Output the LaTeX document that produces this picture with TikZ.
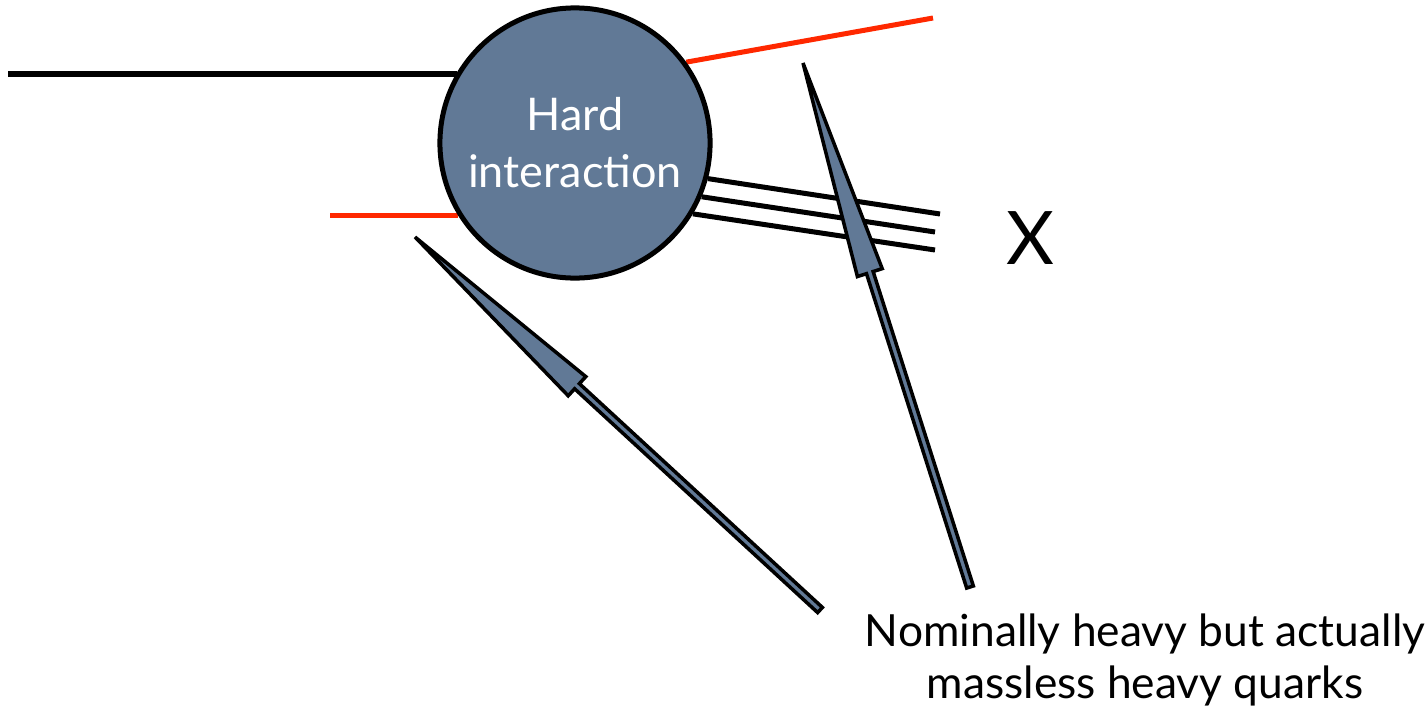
\documentclass[tikz,border=0pt]{standalone}
\usepackage{fontspec}
\setmainfont{Lato}
\usetikzlibrary{calc,backgrounds}
\definecolor{blob}{RGB}{97,121,150}
\definecolor{qred}{RGB}{255,40,0}
\newcommand{\qarrow}[2]{% #1 tail, #2 tip
  \coordinate (hb) at ($(#1)!0.6!(#2)$);
  \draw[fatarrow] (#2) -- ($(hb)!0.13cm!90:(#2)$) -- ($(hb)!0.035cm!90:(#2)$)
    -- ($(#1)!0.035cm!90:(#2)$) -- ($(#1)!0.035cm!-90:(#2)$)
    -- ($(hb)!0.035cm!-90:(#2)$) -- ($(hb)!0.13cm!-90:(#2)$) -- cycle;
}
\begin{document}
\begin{tikzpicture}[x=0.01cm,y=-0.01cm,
  fatarrow/.style={draw=black, fill=blob, line width=0.035cm},
  blobstyle/.style={circle, draw=black, fill=blob, line width=0.05cm, minimum size=2.7cm, inner sep=0pt,
    text=white, align=center, font=\fontsize{12.8}{16.2}\selectfont},
  quark/.style={draw=qred, line width=0.05cm},
  parton/.style={draw=black, line width=0.05cm},
  lbl/.style={align=center, font=\fontsize{12.6}{15}\selectfont}]
\useasboundingbox (0,0) rectangle (1428,715);
\node[blobstyle] (hi) at (575,143) {Hard\\interaction};
\coordinate (pin) at (8,74);
\coordinate (qin) at (330,215);
\coordinate (qout) at (933,18);
\coordinate (x1) at (940,214);
\coordinate (x2) at (935,232);
\coordinate (x3) at (935,250);
\begin{scope}[on background layer]
\draw[parton] (pin) -- (pin -| hi.149);
\draw[quark] (qin) -- (qin -| hi.212);
\draw[quark] (hi.36) -- (qout);
\draw[parton] (hi.-15) -- (x1);
\draw[parton] (hi.-23) -- (x2);
\draw[parton] (hi.-31) -- (x3);
\end{scope}
\node[font=\fontsize{21}{24}\selectfont] (X) at (1030,238) {X};
\node[lbl] (cap) at (1145,660) {Nominally heavy but actually\\massless heavy quarks};
\coordinate (a1t) at (820,610);
\coordinate (a1h) at (415,237);
\coordinate (a2t) at (970,587);
\coordinate (a2h) at (803,63);
\qarrow{a1t}{a1h}
\qarrow{a2t}{a2h}
\end{tikzpicture}
\end{document}
